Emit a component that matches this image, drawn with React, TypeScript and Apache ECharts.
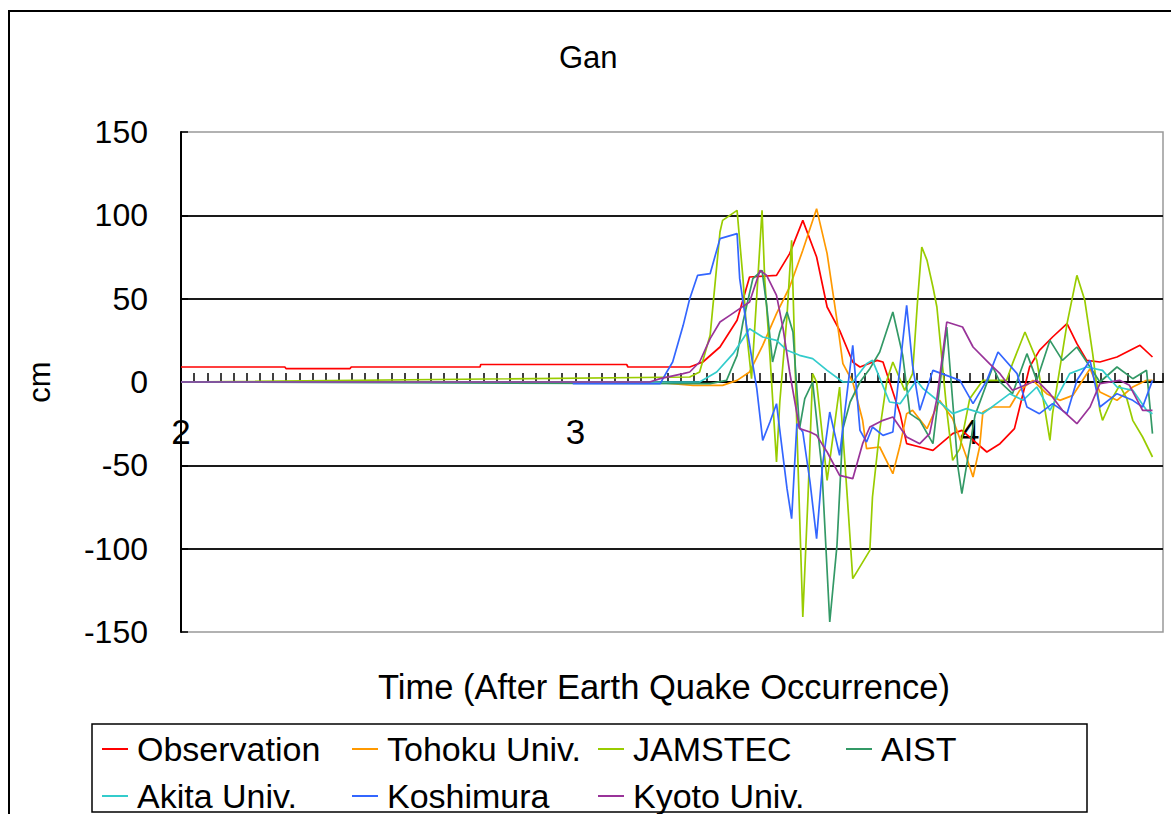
import React, { useEffect, useRef } from 'react';
import * as echarts from 'echarts';

// time in minutes after the earthquake, value in cm
const seriesNames = ['Observation', 'Tohoku Univ.', 'JAMSTEC', 'AIST', 'Akita Univ.', 'Koshimura', 'Kyoto Univ.'];
const seriesColors = ['#FF0000', '#FF9900', '#99CC00', '#339966', '#33CCCC', '#3366FF', '#993399'];

const observation: [number, number][] = [
  [120, 9], [135.8, 9], [136, 8], [145.7, 8], [145.9, 9], [165.5, 9], [165.6, 10.5], [187.8, 10.5], [188, 9],
  [197.4, 9], [199.4, 12], [202, 21], [204.6, 37], [206.5, 63], [210.6, 64], [212.6, 77], [214.6, 97], [216.7, 75],
  [218.3, 45], [220.2, 31], [222.2, 12], [223.3, 9], [225.9, 13], [226.8, 12], [229.4, -19], [230.4, -37], [232.4, -39],
  [234.4, -41], [237.4, -31], [238.8, -29], [242.6, -42], [244.6, -37], [246.8, -28], [249.1, 9], [250.6, 19],
  [252.6, 27], [254.8, 35], [256.3, 23], [257.8, 13], [259.8, 12], [262.4, 15], [265.9, 22], [267.8, 15],
];

const tohoku: [number, number][] = [
  [120, 0], [191.6, 0], [197.9, -2], [202.4, -2], [204.6, 1], [206.5, 6], [208.5, 22], [210.6, 41], [212.6, 57],
  [214.6, 79], [216.7, 104], [218.3, 77], [219.8, 37], [220.7, 11], [222.2, 0], [223.7, -23], [224.3, -40],
  [226.3, -39], [228.3, -55], [229.4, -38], [230.4, -19], [231.3, -17], [233.5, -28], [235.4, -11], [237.4, -22],
  [239.5, -45], [240.5, -57], [241.5, -39], [242, -18], [243.5, -15], [246.1, -15], [247.6, -5], [249.6, 1],
  [251.7, -7], [253.7, -11], [255.7, -8], [258.3, 8], [259.8, -6], [262.4, -11], [264.8, -3], [266.9, 1], [267.8, 1],
];

const jamstec: [number, number][] = [
  [120, 0], [197.4, 3], [198.9, 6], [200.5, 28], [202, 90], [202.4, 97], [204.6, 103], [205.5, 62], [206.1, 28],
  [206.8, 2], [207.6, 52], [208.4, 103], [208.8, 62], [209.6, 16], [210.6, -48], [211.1, -12], [212.2, 40],
  [212.9, 85], [213.7, -28], [214.6, -141], [215.4, -68], [216.1, 5], [216.7, 0], [218.3, -59], [220.2, -3],
  [221.3, -65], [222.2, -118], [224.8, -101], [225.2, -69], [226.3, -29], [227.4, 1], [228.3, 12], [230.1, -5],
  [231.3, 5], [232.1, 51], [232.7, 81], [233.5, 73], [234.4, 57], [235, 45], [236.5, -17], [237.4, -47],
  [238.5, -40], [240, -10], [242, 1], [245.6, 1], [246.5, 11], [248.4, 30], [250.2, 13], [252.2, -35],
  [252.6, -19], [254.8, 35], [256.3, 64], [257.5, 49], [258.7, 17], [259.8, -17], [260.2, -23], [261.8, -9],
  [262.8, -2], [263.9, -10], [264.8, -23], [266.3, -33], [267.8, -45],
];

const aist: [number, number][] = [
  [120, 0], [200.5, -1], [203, 1], [204.6, 16], [205.5, 36], [207, 62], [208.4, 67], [209.1, 46], [210, 12],
  [211.1, 30], [212.2, 42], [213.1, 30], [214.1, -28], [214.9, -10], [216.1, 0], [217.5, -52], [218.7, -144],
  [219.8, -98], [220.7, -28], [221.8, -12], [223.3, 0], [224.8, 8], [226.3, 18], [228.3, 42], [229.8, 16],
  [230.9, -19], [232.4, -23], [234.4, -37], [236.5, 33], [238.2, -51], [238.8, -67], [240.8, -20], [243.5, 9],
  [244.6, 0], [246.5, -7], [248.7, 17], [250.2, 1], [252.2, 25], [254.1, 13], [256.3, 21], [258.3, 9], [259.8, 0],
  [262.4, 9], [264.8, 2], [266.9, 7], [267.8, -31],
];

const akita: [number, number][] = [
  [120, 0], [198.9, 0], [201.5, 6], [204, 17], [206.5, 32], [208.5, 27], [210.6, 25], [212.2, 19], [214.1, 16],
  [216.1, 14], [218.3, 7], [220.7, 0], [222.2, 0], [224.3, 11], [225.2, 13], [227.8, -12], [229.4, -13],
  [231.9, 1], [232.9, -4], [235.4, -12], [237.4, -19], [239.5, -16], [242, -19], [246.1, -7], [248.1, -11],
  [250.2, -3], [252.2, -17], [255.2, 5], [257.8, 9], [260.2, 7], [262.4, -3], [264.8, -5], [266.9, -17], [267.8, -19],
];

const koshimura: [number, number][] = [
  [179.6, -1], [192.9, -1], [193.9, 6], [194.8, 12], [196.4, 34], [197.4, 50], [198.6, 64], [200.5, 65],
  [202, 86], [204.6, 89], [205, 62], [206.1, 32], [207.6, -4], [208.5, -35], [209.6, -24], [210.6, -13],
  [212.2, -64], [212.9, -82], [213.7, -25], [214.6, -30], [215.7, -60], [216.7, -94], [217.6, -50], [218.7, -18],
  [220.2, -44], [222.2, 22], [223.3, -29], [224.3, -36], [225.2, -27], [226.8, -32], [228.3, -30], [230.4, 46],
  [231.3, 10], [232.4, -17], [234.4, 7], [238.5, 1], [240.5, -13], [242.6, 1], [244.3, 18], [247.2, 5],
  [248.7, -15], [250.6, -19], [252.6, -13], [254.8, -19], [256.3, 1], [258.3, 13], [259.8, -15], [262.4, -7],
  [264.8, -11], [266.3, -15], [267.8, 1],
];

const kyoto: [number, number][] = [
  [120, 0], [191.3, 0], [192.9, 2], [196.4, 5], [197.4, 6], [198.9, 12], [200.5, 26], [202, 36], [203.5, 40],
  [205, 44], [206.5, 48], [208.1, 67], [209.1, 64], [210.6, 52], [211.6, 32], [212.6, 6], [214.1, -28],
  [215.7, -30], [216.7, -32], [218.3, -42], [220.2, -56], [222.2, -58], [223.7, -37], [224.8, -27], [226.8, -23],
  [228.3, -21], [230.4, -33], [232.4, -37], [233.9, -31], [235, -10], [236.5, 36], [238.9, 33], [240.5, 21],
  [243, 11], [244.6, 5], [246.5, -5], [250.2, 1], [252.2, -7], [254.1, -17], [256.3, -25], [258.3, -15],
  [259.8, -1], [262.8, 1], [264.3, -2], [266.3, -17], [267.8, -17],
];

const seriesData = [observation, tohoku, jamstec, aist, akita, koshimura, kyoto];

const xMin = 120;
const xMax = 269.4;
const xTickInterval = 2;
const yMin = -150;
const yMax = 150;
const yInterval = 50;

const legendColumns = [
  ['Observation', 'Akita Univ.'],
  ['Tohoku Univ.', 'Koshimura'],
  ['JAMSTEC', 'Kyoto Univ.'],
  ['AIST'],
];
const legendLefts = [102, 352, 598, 846];

const FONT = '"Liberation Sans", Arial, sans-serif';

export default function App() {
  const ref = useRef<HTMLDivElement>(null);
  useEffect(() => {
    if (!ref.current) return;
    const chart = echarts.init(ref.current, undefined, { renderer: 'svg' });
    chart.setOption({
      animation: false,
      backgroundColor: '#fff',
      title: {
        text: 'Gan',
        left: 559,
        top: 42,
        padding: 0,
        textStyle: { fontSize: 31, fontWeight: 'normal', color: '#000', fontFamily: FONT },
      },
      grid: {
        left: 181,
        top: 132,
        width: 982,
        height: 500,
        show: true,
        borderColor: '#999',
        borderWidth: 1.5,
        containLabel: false,
      },
      xAxis: {
        type: 'value',
        min: xMin,
        max: xMax,
        interval: xTickInterval,
        position: 'bottom',
        offset: -250,
        axisLine: { show: true, onZero: false, lineStyle: { color: '#000', width: 2 } },
        axisTick: { show: true, inside: true, length: 9, lineStyle: { color: '#000', width: 1.5 } },
        splitLine: { show: false },
        axisLabel: {
          showMinLabel: true,
          margin: 32,
          fontSize: 35,
          color: '#000',
          fontFamily: FONT,
          formatter: (v: number) => (v % 60 === 0 ? String(v / 60) : ''),
        },
      },
      yAxis: {
        type: 'value',
        min: yMin,
        max: yMax,
        interval: yInterval,
        name: 'cm',
        nameLocation: 'middle',
        nameGap: 126,
        nameRotate: 90,
        nameTextStyle: { fontSize: 31, color: '#000', fontFamily: FONT },
        axisLine: { show: true, lineStyle: { color: '#000', width: 2 } },
        axisTick: { show: true, inside: true, length: 7, lineStyle: { color: '#000', width: 1.5 } },
        splitLine: { show: true, showMinLine: false, showMaxLine: false, lineStyle: { color: '#1a1a1a', width: 2 } },
        axisLabel: { margin: 33, fontSize: 32, color: '#000', fontFamily: FONT },
      },
      legend: legendColumns.map((names, i) => ({
        data: names,
        orient: 'vertical',
        left: legendLefts[i],
        top: 731,
        padding: 0,
        itemWidth: 26,
        itemHeight: 2,
        itemGap: 11,
        icon: 'rect',
        selectedMode: false,
        textStyle: { fontSize: 34, color: '#000', fontFamily: FONT, lineHeight: 36, padding: [0, 0, 0, 4] },
      })),
      graphic: [
        {
          type: 'rect',
          shape: { x: 9, y: 11, width: 1250, height: 900 },
          style: { fill: 'none', stroke: '#000', lineWidth: 2 },
          silent: true,
        },
        {
          type: 'rect',
          shape: { x: 92, y: 724, width: 995, height: 88 },
          style: { fill: 'none', stroke: '#000', lineWidth: 1.5 },
          silent: true,
        },
        {
          type: 'text',
          x: 664,
          y: 687,
          style: {
            text: 'Time (After Earth Quake Occurrence)',
            fontSize: 34.5,
            fontFamily: FONT,
            fill: '#000',
            align: 'center',
            verticalAlign: 'middle',
            textAlign: 'center',
            textVerticalAlign: 'middle',
          },
          silent: true,
        },
      ],
      series: seriesNames.map((name, i) => ({
        name,
        type: 'line',
        data: seriesData[i],
        symbol: 'none',
        showSymbol: false,
        color: seriesColors[i],
        lineStyle: { color: seriesColors[i], width: 1.7 },
        clip: true,
      })),
    });
    return () => chart.dispose();
  }, []);
  return <div ref={ref} style={{ position: 'absolute', left: 0, top: 0, width: 1171, height: 814 }} />;
}
